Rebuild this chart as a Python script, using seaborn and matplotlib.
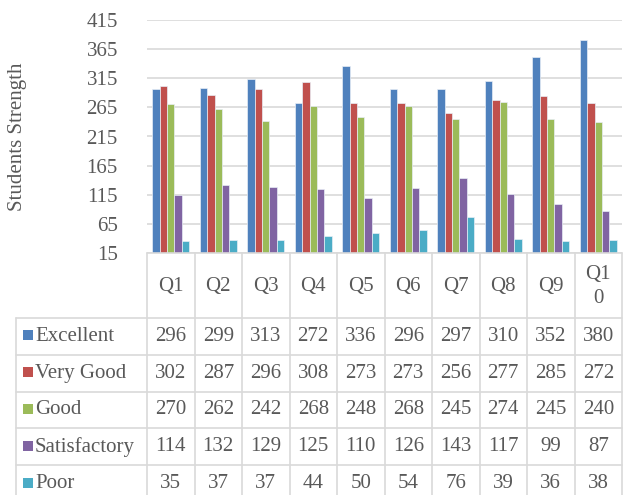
import matplotlib
matplotlib.use("Agg")
import matplotlib.pyplot as plt
from matplotlib.lines import Line2D
from matplotlib.patches import Rectangle
import seaborn as sns
import pandas as pd
import numpy as np

categories = ["Q1", "Q2", "Q3", "Q4", "Q5", "Q6", "Q7", "Q8", "Q9", "Q10"]
header_labels = ["Q1", "Q2", "Q3", "Q4", "Q5", "Q6", "Q7", "Q8", "Q9", "Q1\n0"]
series_names = ["Excellent", "Very Good", "Good", "Satisfactory", "Poor"]
excellent = [296, 299, 313, 272, 336, 296, 297, 310, 352, 380]
very_good = [302, 287, 296, 308, 273, 273, 256, 277, 285, 272]
good = [270, 262, 242, 268, 248, 268, 245, 274, 245, 240]
satisfactory = [114, 132, 129, 125, 110, 126, 143, 117, 99, 87]
poor = [35, 37, 37, 44, 50, 54, 76, 39, 36, 38]
y_ticks = [15, 65, 115, 165, 215, 265, 315, 365, 415]
colors = ["#4F81BD", "#C0504D", "#9BBB59", "#8064A2", "#4BACC6"]

series_values = [excellent, very_good, good, satisfactory, poor]
df = pd.DataFrame({
    "Question": np.tile(categories, len(series_names)),
    "Rating": np.repeat(series_names, len(categories)),
    "Value": np.concatenate(series_values),
})

sns.set_style("white")
plt.rcParams["font.family"] = ["Liberation Serif", "DejaVu Serif"]
text_color = "#595959"
grid_color = "#D9D9D9"
fs = 15

W, H = 637, 495
fig = plt.figure(figsize=(W / 100, H / 100), dpi=100)
ax_l, ax_r, ax_t, ax_b = 147, 622, 20, 253
ax = fig.add_axes([ax_l / W, 1 - ax_b / H, (ax_r - ax_l) / W, (ax_b - ax_t) / H])

sns.barplot(data=df, x="Question", y="Value", hue="Rating", order=categories,
            hue_order=series_names, palette=colors, width=0.78, ax=ax,
            edgecolor="#E8EEF6", linewidth=0.5, legend=False, saturation=1)

ax.set_ylim(15, 415)
ax.set_yticks(y_ticks)
ax.set_yticklabels([str(t) for t in y_ticks], fontsize=fs, color=text_color)
ax.set_xlim(-0.5, len(categories) - 0.5)
ax.set_xticks([])
ax.set_xlabel("")
ax.set_ylabel("Students Strength", fontsize=fs, color=text_color)
ax.yaxis.set_label_coords((18 - ax_l) / (ax_r - ax_l), 0.5)
ax.yaxis.label.set_va("center")
ax.yaxis.grid(True, color=grid_color, linewidth=1.2)
ax.set_axisbelow(True)
ax.tick_params(axis="y", length=0, pad=21)
for s in ax.spines.values():
    s.set_visible(False)


def fx(px):
    return px / W


def fy(py):
    return 1 - py / H


def hline(x0, x1, y):
    fig.add_artist(Line2D([fx(x0), fx(x1)], [fy(y), fy(y)], color=grid_color, lw=1.2,
                          transform=fig.transFigure))


def vline(x, y0, y1):
    fig.add_artist(Line2D([fx(x), fx(x)], [fy(y0), fy(y1)], color=grid_color, lw=1.2,
                          transform=fig.transFigure))


# data table below the axes
left_px = 16
col_w = (ax_r - ax_l) / len(categories)
head_top = ax_b
head_bot = 318
row_h = 36.8
n_rows = len(series_names)
table_bot = head_bot + row_h * n_rows

# header row
hline(ax_l, ax_r, head_top)
for j in range(len(categories) + 1):
    vline(ax_l + j * col_w, head_top, table_bot)
for j, lab in enumerate(header_labels):
    fig.text(fx(ax_l + (j + 0.5) * col_w), fy((head_top + head_bot) / 2 + 1), lab,
             ha="center", va="center", fontsize=fs, color=text_color, linespacing=1.35)

# data rows
vline(left_px, head_bot, table_bot)
for i in range(n_rows + 1):
    hline(left_px, ax_r, head_bot + i * row_h)
for i, (name, vals) in enumerate(zip(series_names, series_values)):
    yc = head_bot + row_h * (i + 0.5)
    fig.patches.append(Rectangle((fx(left_px + 7), fy(yc + 4)), 10 / W, 10 / H,
                                 transform=fig.transFigure, facecolor=colors[i],
                                 edgecolor="none", figure=fig))
    fig.text(fx(left_px + 19), fy(yc), name, ha="left", va="center",
             fontsize=fs, color=text_color)
    for j, v in enumerate(vals):
        fig.text(fx(ax_l + (j + 0.5) * col_w), fy(yc), str(v), ha="center", va="center",
                 fontsize=fs, color=text_color)

fig.savefig("out.png", dpi=100)
